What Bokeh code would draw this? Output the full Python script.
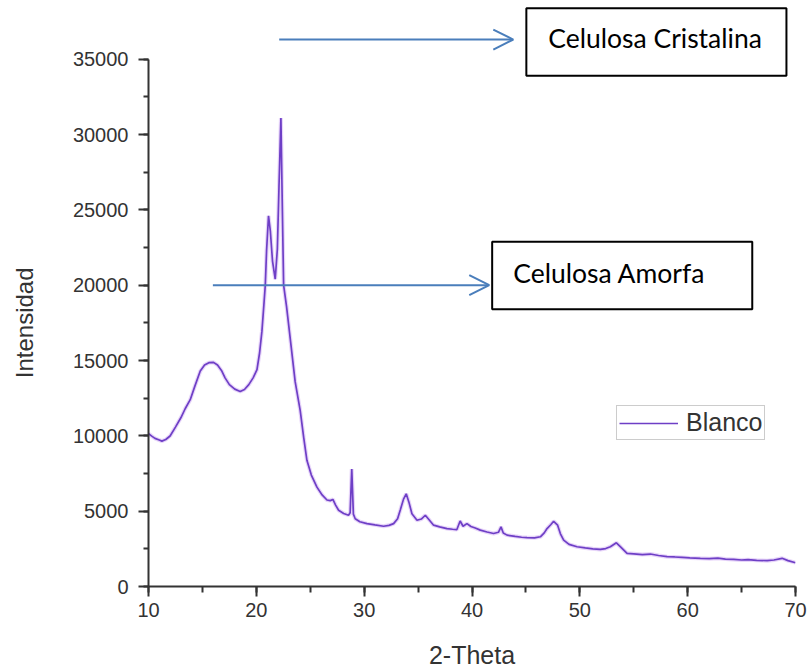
import math
from bokeh.plotting import figure
from bokeh.layouts import row
from bokeh.models import (Range1d, SingleIntervalTicker, Arrow, OpenHead,
                          BoxAnnotation, Label)
from bokeh.embed import file_html
from bokeh.resources import INLINE

# ---- data ----
two_theta = [10.0, 10.3, 10.6, 11.0, 11.24, 11.6, 12.0, 12.5, 13.0, 13.4,
             13.87, 14.3, 14.8, 15.2, 15.6, 16.03, 16.4, 16.8, 17.1, 17.5,
             18.0, 18.5, 18.9, 19.3, 19.7, 20.06, 20.3, 20.52, 20.7, 20.83,
             20.95, 21.13, 21.3, 21.5, 21.75, 21.95, 22.1, 22.28, 22.4, 22.53,
             22.8, 23.2, 23.6, 24.07, 24.4, 24.69, 25.1, 25.62, 26.1, 26.55,
             26.85, 27.1, 27.35, 27.63, 28.1, 28.55, 28.7, 28.85, 29.0, 29.17,
             29.6, 30.26, 31.0, 31.8, 32.3, 32.73, 33.1, 33.35, 33.65, 33.9,
             34.15, 34.43, 34.9, 35.3, 35.67, 36.0, 36.44, 37.0, 37.68, 38.2,
             38.6, 38.9, 39.17, 39.53, 39.9, 40.3, 40.77, 41.4, 42.0, 42.45,
             42.69, 42.9, 43.25, 44.0, 44.6, 45.1, 45.8, 46.34, 46.7, 46.96,
             47.3, 47.57, 47.94, 48.2, 48.5, 49.0, 49.74, 50.5, 51.2, 51.9,
             52.4, 52.83, 53.39, 53.8, 54.38, 55.0, 55.8, 56.54, 57.3, 58.09,
             58.8, 59.5, 60.2, 61.18, 62.0, 62.8, 63.5, 64.27, 65.0, 65.6,
             66.4, 67.37, 68.0, 68.76, 69.3, 70.0]
intensity = [10150, 9980, 9830, 9720, 9650, 9760, 9990, 10580, 11200, 11800,
             12400, 13300, 14300, 14700, 14860, 14880, 14700, 14300, 13850, 13400,
             13100, 12950, 13080, 13400, 13850, 14400, 15500, 16950, 18700, 20000,
             22300, 24600, 23600, 21600, 20400, 22400, 26500, 31100, 25600, 20000,
             18600, 16100, 13600, 11670, 9850, 8375, 7400, 6595, 6080, 5740,
             5700, 5780, 5400, 5060, 4850, 4730, 4900, 7800, 4800, 4500,
             4300, 4175, 4090, 4000, 4060, 4175, 4500, 5080, 5800, 6150,
             5600, 4830, 4400, 4480, 4730, 4450, 4070, 3960, 3845, 3800,
             3780, 4350, 4000, 4175, 3980, 3880, 3740, 3620, 3515, 3600,
             3957, 3550, 3410, 3330, 3270, 3250, 3230, 3300, 3560, 3845,
             4100, 4330, 4070, 3500, 3080, 2800, 2640, 2560, 2500, 2460,
             2520, 2640, 2900, 2620, 2200, 2170, 2120, 2155, 2060, 1980,
             1960, 1930, 1900, 1870, 1850, 1880, 1820, 1800, 1760, 1780,
             1740, 1715, 1760, 1870, 1720, 1580]
assert len(two_theta) == len(intensity), (len(two_theta), len(intensity))

series_name = "Blanco"
x_title = "2-Theta"
y_title = "Intensidad"
note_crystal = "Celulosa Cristalina"
note_amorph = "Celulosa Amorfa"

TICK_FONT = "Liberation Sans"
AX_COLOR = "#333333"
ARROW_COLOR = "#4a7ebb"
LINE_COLOR = "#6e3fc6"

TITLE_W = 45  # narrow strip holding the vertical y title
Y_MAX_VIEW = 38900
Y_AXIS_END = 35000

# ---- main plot ----
p = figure(width=809 - TITLE_W, height=671,
           x_range=Range1d(10, 70), y_range=Range1d(0, Y_MAX_VIEW),
           output_backend="svg", toolbar_location=None,
           min_border_left=148 - TITLE_W, min_border_right=14,
           min_border_top=0, min_border_bottom=81)
p.outline_line_color = None
p.grid.visible = False
p.background_fill_color = "white"
p.border_fill_color = "white"

# ---- strip with the y-axis title (frame aligned with the main plot) ----
ft = figure(width=TITLE_W, height=671, x_range=Range1d(0, TITLE_W),
            y_range=p.y_range, x_axis_type=None, y_axis_type=None,
            output_backend="svg", toolbar_location=None, min_border=0)
ft.outline_line_color = None
ft.grid.visible = False
ft.add_layout(Label(x=23.5, y=Y_AXIS_END / 2, angle=math.pi / 2, text=y_title,
                    text_font=TICK_FONT, text_font_size="24px",
                    text_color=AX_COLOR, text_align="center",
                    text_baseline="middle"))

# halo + core line
p.line(two_theta, intensity, line_color="#c9a2f2", line_width=4, line_alpha=0.45)
p.line(two_theta, intensity, line_color=LINE_COLOR, line_width=1.7,
       legend_label=series_name)

# axes
for ax in (p.xaxis[0], p.yaxis[0]):
    ax.axis_line_color = AX_COLOR
    ax.axis_line_width = 2
    ax.major_tick_line_color = AX_COLOR
    ax.major_tick_line_width = 2
    ax.minor_tick_line_color = AX_COLOR
    ax.minor_tick_line_width = 2
    ax.major_tick_in = 0
    ax.minor_tick_in = 0
    ax.major_tick_out = 10
    ax.major_label_text_font = TICK_FONT
    ax.major_label_text_font_size = "20px"
    ax.major_label_text_color = AX_COLOR
    ax.axis_label_text_font = TICK_FONT
    ax.axis_label_text_font_size = "25px"
    ax.axis_label_text_font_style = "normal"
    ax.axis_label_text_color = AX_COLOR

p.xaxis[0].ticker = SingleIntervalTicker(interval=10, num_minor_ticks=2)
p.xaxis[0].minor_tick_out = 6
p.xaxis[0].major_label_standoff = 6
p.xaxis[0].axis_label = x_title
p.xaxis[0].axis_label_standoff = 21

p.yaxis[0].ticker = SingleIntervalTicker(interval=5000, num_minor_ticks=2)
p.yaxis[0].bounds = (0, Y_AXIS_END)
p.yaxis[0].minor_tick_out = 5
p.yaxis[0].major_label_standoff = 10

# legend
lg = p.legend[0]
lg.location = (468, 146)
lg.border_line_color = "#9a9a9a"
lg.border_line_width = 1.5
lg.background_fill_color = "white"
lg.background_fill_alpha = 1
lg.label_text_font = TICK_FONT
lg.label_text_font_size = "25px"
lg.label_text_color = AX_COLOR
lg.glyph_width = 59
lg.glyph_height = 28
lg.label_height = 28
lg.padding = 2
lg.margin = 0
lg.spacing = 0
lg.label_standoff = 8

# annotation boxes
p.add_layout(BoxAnnotation(left=45.04, right=69.16, bottom=33899, top=38383,
                           fill_color="white", fill_alpha=1,
                           line_color="black", line_alpha=1, line_width=2))
p.add_layout(BoxAnnotation(left=41.87, right=65.99, bottom=18400, top=22885,
                           fill_color="white", fill_alpha=1,
                           line_color="black", line_alpha=1, line_width=2))
p.add_layout(Label(x=47.08, y=36405, text=note_crystal, text_font="Lato",
                   text_font_size="26.5px", text_color="black",
                   text_baseline="alphabetic"))
p.add_layout(Label(x=43.83, y=20841, text=note_amorph, text_font="Lato",
                   text_font_size="26.5px", text_color="black",
                   text_baseline="alphabetic"))

# arrows
p.add_layout(Arrow(end=OpenHead(size=20, line_color=ARROW_COLOR, line_width=2),
                   x_start=22.12, y_start=36306, x_end=43.83, y_end=36306,
                   line_color=ARROW_COLOR, line_width=2))
p.add_layout(Arrow(end=OpenHead(size=20, line_color=ARROW_COLOR, line_width=2),
                   x_start=15.97, y_start=20000, x_end=41.6, y_end=20000,
                   line_color=ARROW_COLOR, line_width=2))

layout = row(ft, p, spacing=0)
open("out.html", "w").write(file_html(layout, INLINE))
